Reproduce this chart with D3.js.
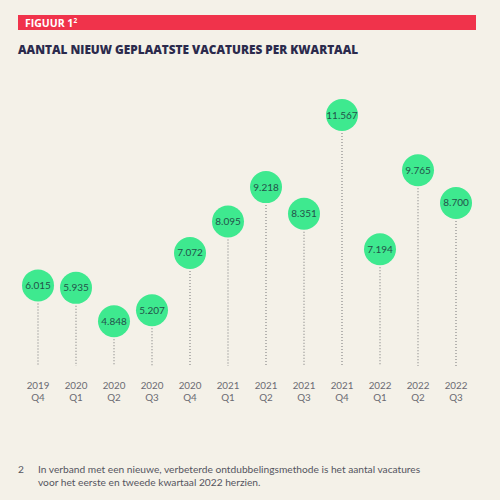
<!DOCTYPE html>
<html lang="nl">
<head>
  <meta charset="UTF-8">
  <style>
    body {
      margin: 0;
      overflow: hidden;
      background: #f4f1e8;
    }

    svg {
      display: block;
    }

    .value {
      text-anchor: middle;
      font-family: Lato, sans-serif;
      font-size: 10px;
      fill: #24524a;
    }

    .tick {
      text-anchor: middle;
      font-family: Lato, sans-serif;
      font-size: 9.8px;
      fill: #6a6a72;
    }

    .stem {
      stroke: #8a8a8a;
      stroke-width: 1.2;
      stroke-dasharray: 1, 2;
    }

    .note {
      font-family: Lato, sans-serif;
      font-size: 10.2px;
      fill: #55555f;
    }
  </style>
  <script src="https://d3js.org/d3.v7.min.js"></script>
</head>
<body>

<svg id="chart"></svg>

<script>
  const years = ["2019", "2020", "2020", "2020", "2020", "2021", "2021", "2021", "2021", "2022", "2022", "2022"];
  const quarters = ["Q4", "Q1", "Q2", "Q3", "Q4", "Q1", "Q2", "Q3", "Q4", "Q1", "Q2", "Q3"];
  const vacatures = [6015, 5935, 4848, 5207, 7072, 8095, 9218, 8351, 11567, 7194, 9765, 8700];

  const width = 500, height = 500;
  const radius = 16;
  const baseY = 366;

  const svg = d3.select("#chart")
    .attr("width", width)
    .attr("height", height);

  // header bar
  svg.append("rect")
    .attr("x", 18).attr("y", 15)
    .attr("width", 458).attr("height", 15)
    .attr("fill", "#f0334b");

  const fig = svg.append("text")
    .attr("x", 25).attr("y", 27)
    .attr("font-family", "'Open Sans', sans-serif")
    .attr("font-weight", 700)
    .attr("font-size", "10.5px")
    .attr("fill", "#ffffff")
    .text("FIGUUR 1");
  fig.append("tspan")
    .attr("font-size", "6.5px")
    .attr("dy", -4)
    .text("2");

  svg.append("text")
    .attr("x", 18).attr("y", 54)
    .attr("font-family", "'Open Sans', sans-serif")
    .attr("font-weight", 800)
    .attr("font-size", "11.8px")
    .attr("fill", "#2b2a4c")
    .text("AANTAL NIEUW GEPLAATSTE VACATURES PER KWARTAAL");

  const idx = d3.range(vacatures.length);

  const x = d3.scalePoint()
    .domain(idx)
    .range([38, 456]);

  const y = d3.scaleLinear()
    .domain([0, 11567])
    .range([470, 115]);

  // dotted stems
  svg.selectAll(".stem")
    .data(idx)
    .join("line")
    .attr("class", "stem")
    .attr("x1", i => x(i))
    .attr("x2", i => x(i))
    .attr("y1", i => y(vacatures[i]) + radius + 2)
    .attr("y2", baseY);

  // bubbles
  svg.selectAll(".bubble")
    .data(idx)
    .join("circle")
    .attr("class", "bubble")
    .attr("cx", i => x(i))
    .attr("cy", i => y(vacatures[i]))
    .attr("r", radius)
    .attr("fill", "#3ee98f");

  svg.selectAll(".value")
    .data(idx)
    .join("text")
    .attr("class", "value")
    .attr("x", i => x(i))
    .attr("y", i => y(vacatures[i]) + 3.5)
    .text(i => d3.format(",")(vacatures[i]).replace(/,/g, "."));

  // category labels, two lines each
  svg.selectAll(".tick.year")
    .data(idx)
    .join("text")
    .attr("class", "tick year")
    .attr("x", i => x(i))
    .attr("y", 389)
    .text(i => years[i]);

  svg.selectAll(".tick.quarter")
    .data(idx)
    .join("text")
    .attr("class", "tick quarter")
    .attr("x", i => x(i))
    .attr("y", 401)
    .text(i => quarters[i]);

  // footnote
  svg.append("text")
    .attr("class", "note")
    .attr("x", 18).attr("y", 473)
    .text("2");
  svg.append("text")
    .attr("class", "note")
    .attr("x", 38).attr("y", 473)
    .text("In verband met een nieuwe, verbeterde ontdubbelingsmethode is het aantal vacatures");
  svg.append("text")
    .attr("class", "note")
    .attr("x", 38).attr("y", 486)
    .text("voor het eerste en tweede kwartaal 2022 herzien.");
</script>

</body>
</html>
